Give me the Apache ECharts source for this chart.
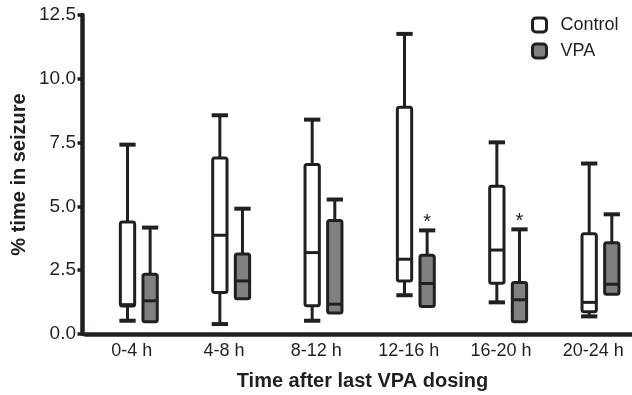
<!DOCTYPE html>
<html>
<head>
<meta charset="utf-8">
<script src="https://cdn.jsdelivr.net/npm/echarts@6/dist/echarts.min.js"></script>
<style>
html,body{margin:0;padding:0;background:#fff;}
#chart{width:632px;height:395px;}
</style>
</head>
<body>
<div id="chart"></div>
<script>
const categories = ['0-4 h', '4-8 h', '8-12 h', '12-16 h', '16-20 h', '20-24 h'];
const yTicks = [0, 2.5, 5, 7.5, 10, 12.5];
// each row: [min, q1, median, q3, max]
const controlStats = [
  [0.52, 1.10, 1.15, 4.39, 7.42],
  [0.39, 1.63, 3.87, 6.90, 8.57],
  [0.52, 1.11, 3.19, 6.64, 8.40],
  [1.52, 2.08, 2.93, 8.89, 11.76],
  [1.24, 1.99, 3.29, 5.79, 7.51],
  [0.69, 0.87, 1.24, 3.93, 6.68]
];
const vpaStats = [
  [0.48, 0.48, 1.30, 2.34, 4.17],
  [1.38, 1.38, 2.08, 3.13, 4.91],
  [0.82, 0.82, 1.17, 4.45, 5.27],
  [1.08, 1.08, 1.98, 3.09, 4.06],
  [0.48, 0.48, 1.34, 2.02, 4.10],
  [1.56, 1.56, 1.95, 3.58, 4.69]
];
const vpaSignificant = [0, 0, 0, 1, 1, 0];
const controlSignificant = [0, 0, 0, 0, 0, 0];

const INK = '#231f20';
const FONT = '"Liberation Sans", Arial, Helvetica, sans-serif';

function makeRenderer(offsetFrac, fill, sigs) {
  return function (params, api) {
    const i = api.value(0);
    const mn = api.value(1), q1 = api.value(2), md = api.value(3), q3 = api.value(4), mx = api.value(5);
    const band = api.size([1, 0])[0];
    const cx = api.coord([i, 0])[0] + offsetFrac * band;
    const w = band * 0.155;
    const y = v => api.coord([i, v])[1];
    const children = [];
    children.push({ type: 'line', shape: { x1: cx, y1: y(mx), x2: cx, y2: y(q3) }, style: { stroke: INK, lineWidth: 3 } });
    children.push({ type: 'line', shape: { x1: cx - w / 2 - 1, y1: y(mx), x2: cx + w / 2 + 1, y2: y(mx) }, style: { stroke: INK, lineWidth: 4 } });
    if (mn < q1) {
      children.push({ type: 'line', shape: { x1: cx, y1: y(q1), x2: cx, y2: y(mn) }, style: { stroke: INK, lineWidth: 3 } });
      children.push({ type: 'line', shape: { x1: cx - w / 2 - 1, y1: y(mn), x2: cx + w / 2 + 1, y2: y(mn) }, style: { stroke: INK, lineWidth: 4 } });
    }
    children.push({ type: 'rect', shape: { x: cx - w / 2, y: y(q3), width: w, height: y(q1) - y(q3), r: 2 }, style: { fill: fill, stroke: INK, lineWidth: 3 } });
    children.push({ type: 'line', shape: { x1: cx - w / 2, y1: y(md), x2: cx + w / 2, y2: y(md) }, style: { stroke: INK, lineWidth: 3 } });
    if (sigs[i]) {
      children.push({ type: 'text', style: { text: '*', x: cx, y: y(mx) - 8, align: 'center', verticalAlign: 'middle', fill: INK, font: '20px ' + FONT } });
    }
    return { type: 'group', children: children };
  };
}

const chart = echarts.init(document.getElementById('chart'), null, { renderer: 'canvas' });
chart.setOption({
  animation: false,
  backgroundColor: '#fff',
  grid: { left: 85.5, top: 15, width: 554, height: 319, containLabel: false, outerBoundsMode: 'none' },
  legend: {
    orient: 'vertical',
    left: 526,
    top: 11,
    padding: 5,
    itemWidth: 14,
    itemHeight: 14,
    itemGap: 8,
    textStyle: { fontSize: 18, color: INK, fontFamily: FONT, padding: [0, 0, 0, 9] },
    data: [
      { name: 'Control', icon: 'roundRect', itemStyle: { color: '#ffffff', borderColor: INK, borderWidth: 3 } },
      { name: 'VPA', icon: 'roundRect', itemStyle: { color: '#808080', borderColor: INK, borderWidth: 3 } }
    ]
  },
  xAxis: {
    type: 'category',
    data: categories,
    boundaryGap: true,
    name: 'Time after last VPA dosing',
    nameLocation: 'middle',
    nameGap: 37,
    nameMoveOverlap: false,
    nameTextStyle: { fontSize: 20, fontWeight: 'bold', color: INK, fontFamily: FONT },
    axisLine: { onZero: false, lineStyle: { color: INK, width: 4.5 } },
    axisTick: { alignWithLabel: true, length: 5, lineStyle: { color: INK, width: 3.5 } },
    axisLabel: { fontSize: 18, color: INK, fontFamily: FONT, margin: 8 },
    splitLine: { show: false }
  },
  yAxis: {
    type: 'value',
    min: 0,
    max: 12.5,
    interval: 2.5,
    offset: 3,
    name: '% time in seizure',
    nameLocation: 'middle',
    nameGap: 53,
    nameMoveOverlap: false,
    nameTextStyle: { fontSize: 20, fontWeight: 'bold', color: INK, fontFamily: FONT },
    axisLine: { show: true, lineStyle: { color: INK, width: 4.5 } },
    axisTick: { show: true, length: 5, lineStyle: { color: INK, width: 3.5 } },
    axisLabel: { fontSize: 19, color: INK, fontFamily: FONT, margin: 6.5, customValues: yTicks, formatter: v => Number(v).toFixed(1) },
    splitLine: { show: false }
  },
  series: [
    {
      name: 'Control',
      type: 'custom',
      itemStyle: { color: '#ffffff', borderColor: INK },
      renderItem: makeRenderer(-0.045, '#ffffff', controlSignificant),
      encode: { x: 0, y: [1, 2, 3, 4, 5] },
      data: controlStats.map((s, i) => [i].concat(s))
    },
    {
      name: 'VPA',
      type: 'custom',
      itemStyle: { color: '#808080', borderColor: INK },
      renderItem: makeRenderer(0.2, '#808080', vpaSignificant),
      encode: { x: 0, y: [1, 2, 3, 4, 5] },
      data: vpaStats.map((s, i) => [i].concat(s))
    }
  ]
});
</script>
</body>
</html>
